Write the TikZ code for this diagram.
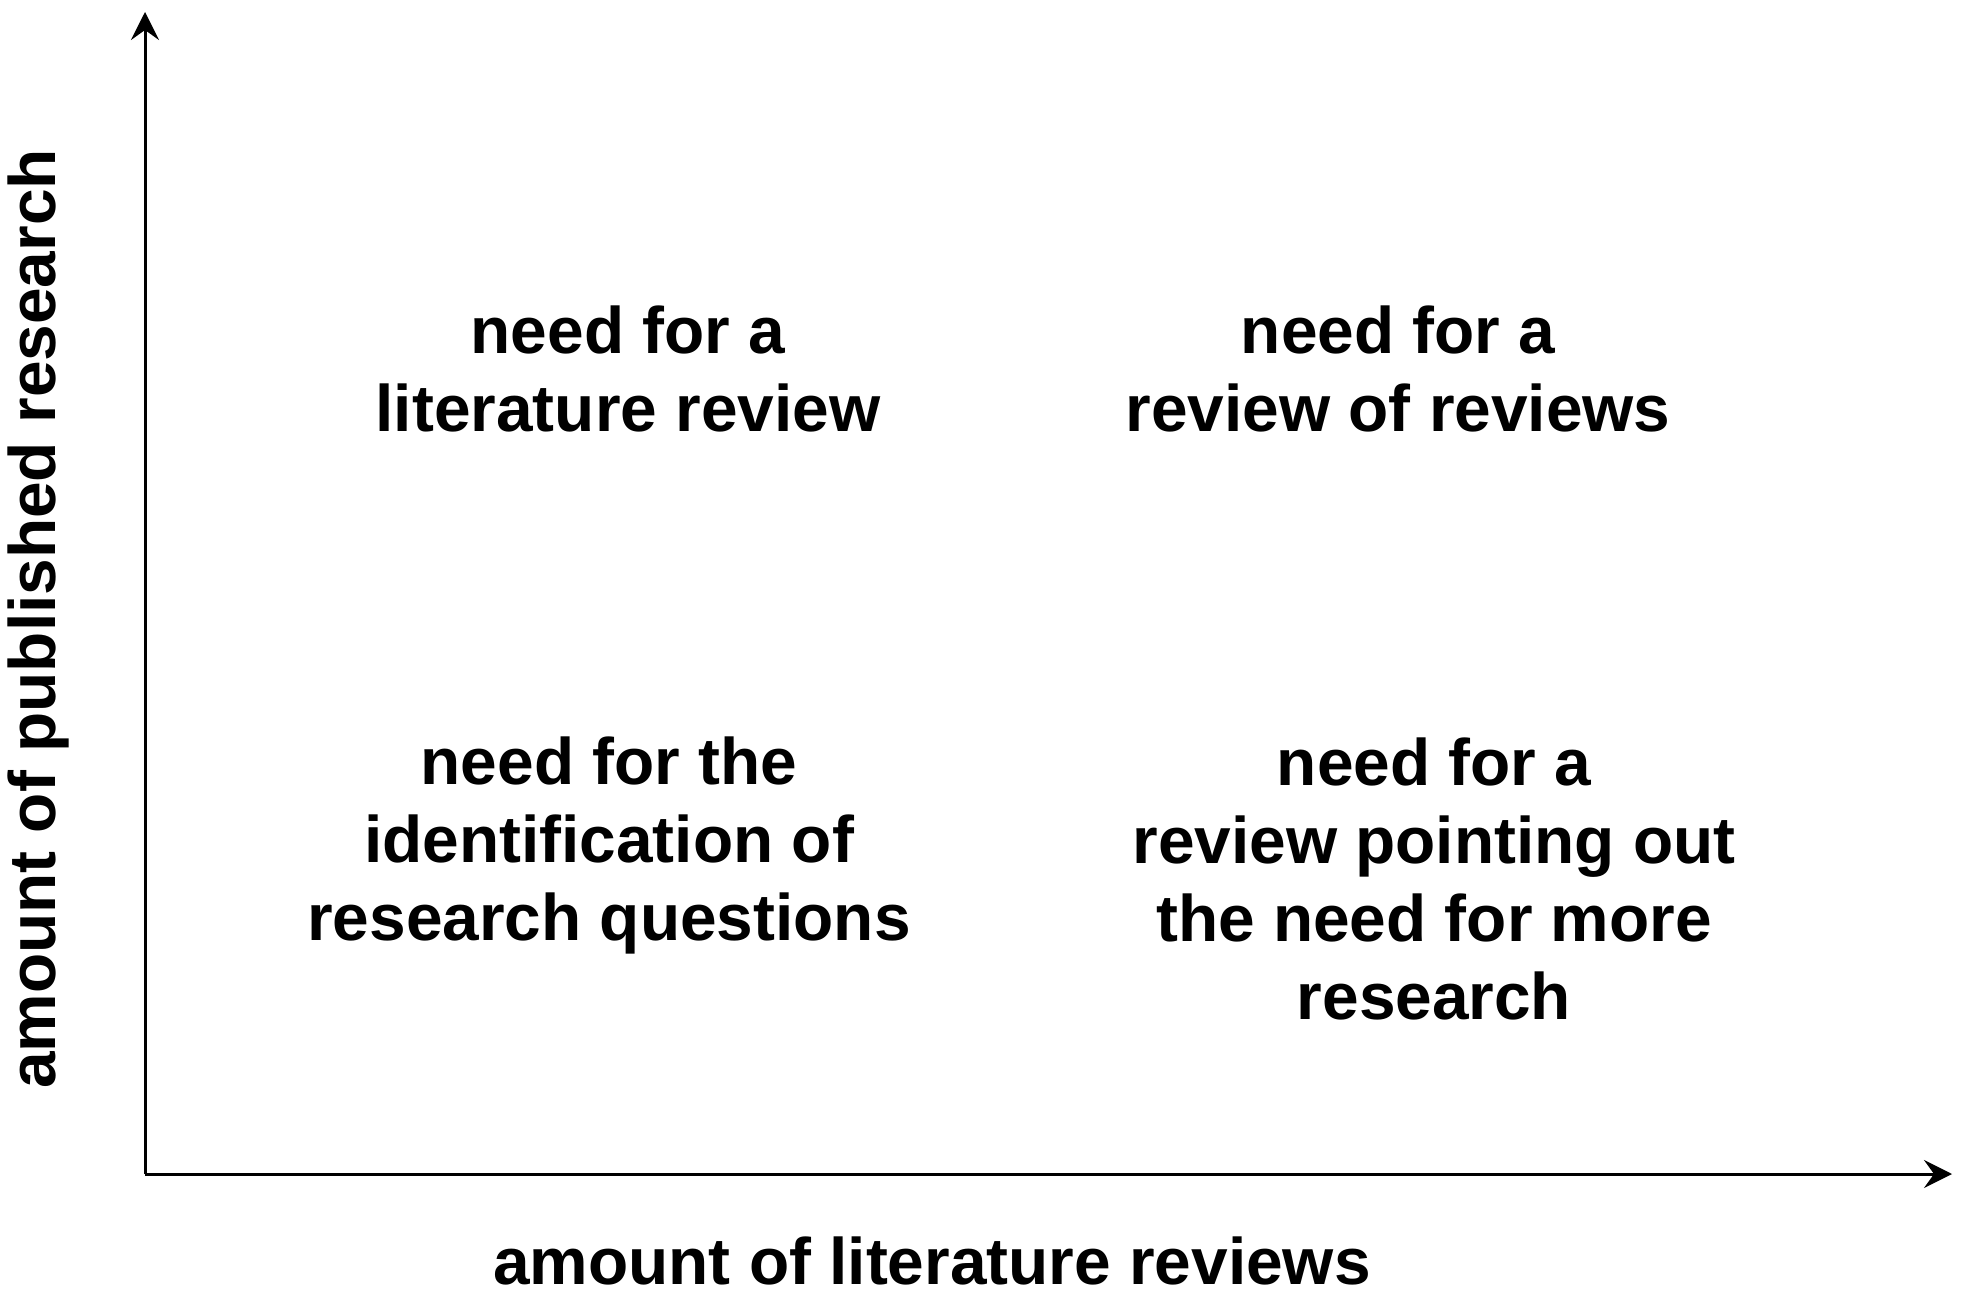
\documentclass[tikz,border=0pt]{standalone}
\usepackage{fontspec}
\setmainfont{Liberation Sans}
\usepackage{tikz}
\usetikzlibrary{arrows.meta}

\begin{document}
\begin{tikzpicture}[x=0.5pt, y=-0.5pt]
	\tikzstyle{quad}=[align=center, inner sep=0pt, font=\fontsize{32.9}{39}\selectfont\bfseries]
	\tikzstyle{axis}=[line width=1.5pt, -{Stealth[length=14pt, width=14pt, inset=5pt]}]

	\useasboundingbox (0, 0) rectangle (1962, 1294);

	\coordinate (o) at (145, 1174);
	\coordinate (ytip) at (145, 12);
	\coordinate (xtip) at (1952, 1174);
	\draw[axis] (o) -- (ytip);
	\draw[axis] (o) -- (xtip);

	\draw node[quad] at (628, 369) (litrev) {need for a\\literature review};
	\draw node[quad] at (1398, 369) (revrev) {need for a\\review of reviews};
	\draw node[quad] at (609, 845) (questions) {need for the\\identification of\\research questions};
	\draw node[quad] at (1434, 879) (more) {need for a\\review pointing out\\the need for more\\research};

	\draw node[quad] at (932, 1261) (xlabel) {amount of literature reviews};
	\draw node[quad, rotate=90] at (38, 619) (ylabel) {amount of published research};
\end{tikzpicture}
\end{document}
